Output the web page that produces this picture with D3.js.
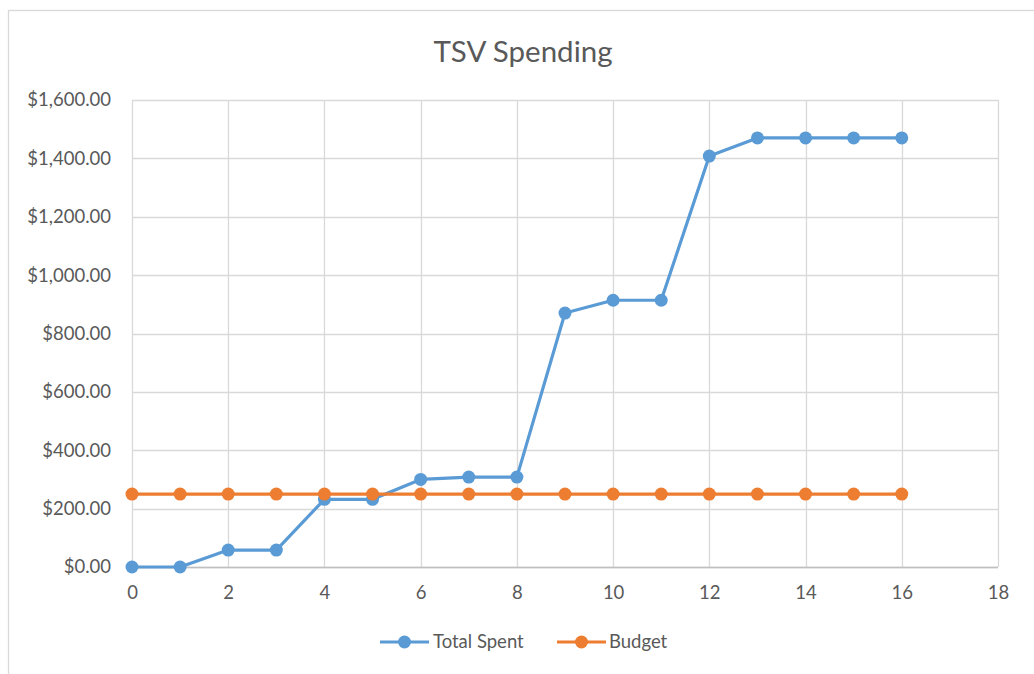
<!DOCTYPE html>
<html>
<head>
<meta charset="utf-8">
<script src="https://cdn.jsdelivr.net/npm/d3@7"></script>
<style>
  html, body { margin: 0; padding: 0; background: #fff; }
  svg { display: block; }
  text { font-family: Lato, "Open Sans", sans-serif; fill: #595959; }
</style>
</head>
<body>
<svg id="chart" width="1034" height="674"></svg>
<script>
const title = "TSV Spending";
const weeks = [0,1,2,3,4,5,6,7,8,9,10,11,12,13,14,15,16];
const totalSpent = [0,0,58,58,232,232,300,308,308,870,914,914,1408,1470,1470,1470,1470];
const budget = [250,250,250,250,250,250,250,250,250,250,250,250,250,250,250,250,250];
const xTicks = [0,2,4,6,8,10,12,14,16,18];
const yTicks = [0,200,400,600,800,1000,1200,1400,1600];
const seriesNames = ["Total Spent", "Budget"];
const seriesColors = ["#5B9BD5", "#ED7D31"];

const svg = d3.select("#chart");
const W = 1034, H = 674;
const m = {left: 132, right: 998, top: 100, bottom: 567};

// outer frame
svg.append("rect").attr("x", 8.5).attr("y", 10.5).attr("width", W).attr("height", H)
  .attr("fill", "#fff").attr("stroke", "#d9d9d9").attr("stroke-width", 1.3);

const x = d3.scaleLinear().domain([0, 18]).range([m.left, m.right]);
const y = d3.scaleLinear().domain([0, 1600]).range([m.bottom, m.top]);

// gridlines
const g = svg.append("g");
g.selectAll(".hgrid").data(yTicks).join("line")
  .attr("x1", m.left).attr("x2", m.right)
  .attr("y1", d => Math.round(y(d)) + 0.5).attr("y2", d => Math.round(y(d)) + 0.5)
  .attr("stroke", "#d9d9d9").attr("stroke-width", 1.3);
g.selectAll(".vgrid").data(xTicks).join("line")
  .attr("y1", m.top).attr("y2", m.bottom)
  .attr("x1", d => Math.round(x(d)) + 0.5).attr("x2", d => Math.round(x(d)) + 0.5)
  .attr("stroke", "#d9d9d9").attr("stroke-width", 1.3);

// x axis line
svg.append("line").attr("x1", m.left).attr("x2", m.right)
  .attr("y1", Math.round(y(0)) + 0.5).attr("y2", Math.round(y(0)) + 0.5)
  .attr("stroke", "#bfbfbf").attr("stroke-width", 1.3);

// axes via d3 (labels only)
const fmt = d3.format("$,.2f");
const yAxis = svg.append("g").attr("transform", `translate(${m.left},0)`)
  .call(d3.axisLeft(y).tickValues(yTicks).tickFormat(fmt).tickSize(0).tickPadding(21));
yAxis.select(".domain").remove();
yAxis.selectAll("text").attr("font-size", 18.5).attr("font-family", "Lato").attr("fill", "#595959");

const xAxis = svg.append("g").attr("transform", `translate(0,${m.bottom})`)
  .call(d3.axisBottom(x).tickValues(xTicks).tickFormat(d3.format("d")).tickSize(0).tickPadding(19));
xAxis.select(".domain").remove();
xAxis.selectAll("text").attr("font-size", 18.5).attr("font-family", "Lato").attr("fill", "#595959");

// title
svg.append("text").attr("x", 523).attr("y", 62).attr("text-anchor", "middle")
  .attr("font-size", 29.5).text(title);

// series
const series = [
  {name: seriesNames[0], values: totalSpent, color: seriesColors[0]},
  {name: seriesNames[1], values: budget, color: seriesColors[1]}
];
const line = d3.line().x((d, i) => x(weeks[i])).y(d => y(d));
series.forEach(s => {
  svg.append("path").datum(s.values).attr("d", line)
    .attr("fill", "none").attr("stroke", s.color).attr("stroke-width", 3.2)
    .attr("stroke-linejoin", "round");
  svg.append("g").selectAll("circle").data(s.values).join("circle")
    .attr("cx", (d, i) => x(weeks[i])).attr("cy", d => y(d)).attr("r", 6.5)
    .attr("fill", s.color);
});

// legend
const legendY = 642;
const legendItems = [{x0: 380, tx: 433}, {x0: 557, tx: 609}];
series.forEach((s, i) => {
  const L = legendItems[i];
  svg.append("line").attr("x1", L.x0).attr("x2", L.x0 + 49).attr("y1", legendY).attr("y2", legendY)
    .attr("stroke", s.color).attr("stroke-width", 3.2);
  svg.append("circle").attr("cx", L.x0 + 24.5).attr("cy", legendY).attr("r", 6.5).attr("fill", s.color);
  svg.append("text").attr("x", L.tx).attr("y", legendY).attr("dy", "0.35em")
    .attr("font-size", 18.5).text(s.name);
});
</script>
</body>
</html>
